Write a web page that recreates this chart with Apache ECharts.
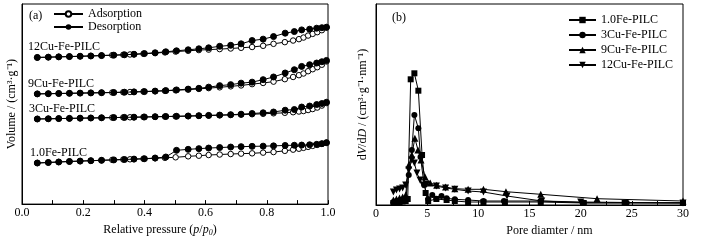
<!DOCTYPE html>
<html><head><meta charset="utf-8">
<script src="https://cdn.jsdelivr.net/npm/echarts@6/dist/echarts.min.js"></script>
<style>html,body{margin:0;padding:0;background:#fff}#c{width:718px;height:242px}</style>
</head><body><div id="c"></div>
<script>
// ---------- Panel (a): N2 isotherms (arbitrary offset volume units) ----------
const pAds = [0.05,0.086,0.12,0.155,0.19,0.225,0.26,0.295,0.331,0.353,0.366,0.397,0.435,0.467,0.502,0.543,0.578,0.61,0.646,0.682,0.716,0.752,0.788,0.822,0.859,0.886,0.905,0.92,0.935,0.95,0.965,0.98,0.995];
const pDes = [0.995,0.98,0.963,0.94,0.914,0.89,0.86,0.822,0.788,0.752,0.716,0.682,0.646,0.61,0.578,0.543,0.505,0.47,0.435,0.4,0.366,0.335,0.3,0.26,0.225,0.19,0.155,0.12,0.086,0.05];

const fe10Ads = [41.3,41.8,42.3,42.8,43.2,43.6,44.0,44.4,44.8,45.0,45.2,45.5,46.0,46.5,47.0,48.0,48.6,49.3,49.8,50.3,50.7,51.0,51.7,52.3,53.5,54.7,55.6,56.5,57.5,58.5,59.5,60.5,61.7];
const fe10Des = [61.7,60.7,60.0,59.6,59.3,59.1,58.9,58.5,58.2,58.0,57.7,57.3,56.8,56.3,55.7,55.0,54.0,47.3,46.3,45.6,45.2,44.8,44.4,44.0,43.6,43.2,42.8,42.3,41.8,41.3];
const cu3Ads = [85.5,85.7,85.9,86.1,86.3,86.5,86.7,86.9,87.1,87.2,87.3,87.5,87.7,87.9,88.1,88.4,88.7,89.0,89.3,89.6,89.9,90.3,90.7,91.2,91.7,92.3,93.0,93.5,94.5,95.5,97.0,99.0,101.5];
const cu3Des = [102.3,101.0,100.0,98.5,97.5,95.0,94.3,92.5,91.7,91.0,90.3,89.8,89.4,89.1,88.8,88.5,88.2,88.0,87.8,87.5,87.3,87.1,86.9,86.7,86.5,86.3,86.1,85.9,85.7,85.5];
const cu9Ads = [110.7,110.9,111.1,111.3,111.5,111.7,111.9,112.1,112.4,112.6,112.7,113.0,113.4,113.8,114.3,115.0,115.7,116.5,117.3,118.3,119.2,120.5,121.7,123.0,125.5,127.7,129.5,131.2,133.5,135.5,137.5,140.0,143.3];
const cu9Des = [144.3,143.0,141.7,140.0,138.3,135.0,131.7,127.7,125.0,122.5,121.5,120.0,119.0,117.5,116.3,115.5,114.7,114.0,113.5,113.0,112.7,112.4,112.1,111.9,111.7,111.5,111.3,111.1,110.9,110.7];
const cu12Ads = [147.3,147.6,147.9,148.2,148.5,148.8,149.2,149.6,150.0,150.3,150.5,151.0,151.7,152.4,153.2,154.0,154.7,155.2,155.7,156.3,157.0,157.8,159.0,161.0,162.7,164.3,165.7,167.3,169.3,171.0,172.7,174.7,177.3];
const cu12Des = [177.7,177.2,176.7,175.7,175.0,173.3,171.7,168.3,165.7,164.3,161.0,159.5,158.5,157.0,156.0,155.0,154.0,153.0,152.0,151.2,150.5,150.0,149.6,149.2,148.8,148.5,148.2,147.9,147.6,147.3];

const sampleLabels = ['12Cu-Fe-PILC','9Cu-Fe-PILC','3Cu-Fe-PILC','1.0Fe-PILC'];
const xTicksA = [0.0,0.2,0.4,0.6,0.8,1.0];

// ---------- Panel (b): pore size distribution ----------
const bNames = ['1.0Fe-PILC','3Cu-Fe-PILC','9Cu-Fe-PILC','12Cu-Fe-PILC'];
const fe10D = [1.7,2.0,2.3,2.6,2.9,3.1,3.39,3.75,4.14,4.5,4.85,5.1,5.9,6.9,7.7,9.0,10.5,12.6,16.1,20.3,24.3,30];
const fe10V = [2,2.5,3,3.5,4,6,125.7,131.7,114.3,50,12,4,6,5,4,3,3,3,3,2,2,2];
const cu3D = [1.7,2.0,2.3,2.6,2.9,3.2,3.5,3.75,4.14,4.35,4.7,5.1,5.5,5.9,6.4,6.9,7.7,9.0,10.5,12.5,16.1,20.3,24.5,30];
const cu3V = [3,4,4.5,5,6,30,55,90,76.7,48,20,6,10,6.3,9,6.7,5.7,5,4,4,4,2.3,2.3,2.3];
const cu9D = [1.7,2.0,2.3,2.6,2.9,3.2,3.5,3.8,4.1,4.4,4.8,5.3,5.93,6.8,7.7,9.0,10.5,12.7,16.1,21.6,30];
const cu9V = [5,6,7,8,10,40,50,66.7,55,45,28,22,19.7,18,16.3,15.7,15.7,13.3,10.7,6.3,4];
const cu12D = [1.7,2.0,2.3,2.6,2.9,3.2,3.5,3.75,4.0,4.3,4.6,4.95,5.9,6.8,7.7,9.0,10.5,12.8,16.2,20,30];
const cu12V = [13,15,16,17,20,35,45,42,32,25,20,20.7,19,17,15.7,14,13,9,4,3,2];
const xTicksB = [0,5,10,15,20,25,30];

const FONT = '"Liberation Serif","Times New Roman",serif';
const zip = (a,b) => a.map((v,i)=>[v,b[i]]);

const lineBase = {type:'line', lineStyle:{color:'#000',width:1}, animation:false};
function ads(d){return Object.assign({}, lineBase, {name:'Adsorption', xAxisIndex:0, yAxisIndex:0, data:d, symbol:'circle', symbolSize:5.5, itemStyle:{color:'#fff',borderColor:'#000',borderWidth:1}, z:2});}
function des(d){return Object.assign({}, lineBase, {name:'Desorption', xAxisIndex:0, yAxisIndex:0, data:d, symbol:'circle', symbolSize:6, itemStyle:{color:'#000',borderColor:'#000'}, z:3});}
function psd(name,d,sym,size,rot){return Object.assign({}, lineBase, {name:name, xAxisIndex:1, yAxisIndex:1, data:d, symbol:sym, symbolSize:size, symbolRotate:rot||0, itemStyle:{color:'#000'}});}

const axisX = (gi, min, max, interval, name, pad) => ({
  gridIndex:gi, type:'value', min:min, max:max, interval:interval,
  axisLine:{lineStyle:{color:'#000',width:1}},
  axisTick:{inside:true,length:4,lineStyle:{color:'#000'}},
  minorTick:{show:true,splitNumber:2,length:4,lineStyle:{color:'#000'}},
  splitLine:{show:false},
  axisLabel:{color:'#000',fontFamily:FONT,fontSize:12,margin:3,
    formatter: v => gi===0 ? v.toFixed(1) : String(v)},
  name:name, nameLocation:'middle', nameGap:15,
  nameTextStyle:{color:'#000',fontFamily:FONT,fontSize:12,padding:pad,
    rich:{n:{fontFamily:FONT,fontSize:12,color:'#000'},i:{fontFamily:FONT,fontSize:12,fontStyle:'italic',color:'#000'},s:{fontFamily:FONT,fontSize:8,fontStyle:'italic',color:'#000',verticalAlign:'bottom',padding:[6,0,0,0]}}}
});
const axisY = (gi, name, gap) => ({
  gridIndex:gi, type:'value', min:0, max:201,
  axisLine:{show:true,lineStyle:{color:'#000'}}, axisTick:{show:false}, axisLabel:{show:false}, splitLine:{show:false},
  name:name, nameLocation:'middle', nameGap:gap, nameRotate:90,
  nameTextStyle:{color:'#000',fontFamily:FONT,fontSize:12,
    rich:{n:{fontFamily:FONT,fontSize:12,color:'#000'},i:{fontFamily:FONT,fontSize:12,fontStyle:'italic',color:'#000'}}}
});

const chart = echarts.init(document.getElementById('c'), null, {renderer:'canvas'});
const labelTops = [[28,41],[28,78],[29,103],[30,147]];
chart.setOption({
  backgroundColor:'#fff',
  animation:false,
  textStyle:{fontFamily:FONT},
  grid:[
    {left:22, top:4, width:306, height:201, show:true, borderColor:'#000', borderWidth:1, backgroundColor:'transparent'},
    {left:376, top:4, width:307, height:201, show:true, borderColor:'#000', borderWidth:1, backgroundColor:'transparent'}
  ],
  xAxis:[
    axisX(0,0,1,0.2,'{n|Relative pressure (}{i|p}{n|/}{i|p}{s|0}{n|)}',[0,30,0,0]),
    axisX(1,0,30,5,'Pore diamter / nm',[0,0,0,40])
  ],
  yAxis:[
    axisY(0,'Volume / (cm³·g⁻¹)',4),
    axisY(1,'{n|d}{i|V}{n|/d}{i|D}{n| / (cm³·g⁻¹·nm⁻¹)}',7)
  ],
  legend:[
    {data:['Adsorption','Desorption'], orient:'vertical', left:48, top:3, itemWidth:29, itemHeight:7, itemGap:1,
     textStyle:{fontFamily:FONT,fontSize:12,color:'#000',lineHeight:12}, selectedMode:false},
    {data:bNames, orient:'vertical', left:563, top:9, itemWidth:27, itemHeight:8, itemGap:3,
     textStyle:{fontFamily:FONT,fontSize:12,color:'#000',lineHeight:12}, selectedMode:false}
  ],
  graphic:[
    {type:'text', left:29, top:10, style:{text:'(a)', font:'12px '+FONT, fill:'#000'}},
    {type:'text', left:392, top:12, style:{text:'(b)', font:'12px '+FONT, fill:'#000'}}
  ].concat(sampleLabels.map((t,i)=>({type:'text', left:labelTops[i][0], top:labelTops[i][1], style:{text:t, font:'12px '+FONT, fill:'#000'}}))),
  series:[
    ads(zip(pAds,fe10Ads)), ads(zip(pAds,cu3Ads)), ads(zip(pAds,cu9Ads)), ads(zip(pAds,cu12Ads)),
    des(zip(pDes,fe10Des)), des(zip(pDes,cu3Des)), des(zip(pDes,cu9Des)), des(zip(pDes,cu12Des)),
    psd(bNames[0], zip(fe10D,fe10V), 'rect', 6),
    psd(bNames[1], zip(cu3D,cu3V), 'circle', 6),
    psd(bNames[2], zip(cu9D,cu9V), 'triangle', 7),
    psd(bNames[3], zip(cu12D,cu12V), 'triangle', 7, 180)
  ]
});
</script></body></html>
